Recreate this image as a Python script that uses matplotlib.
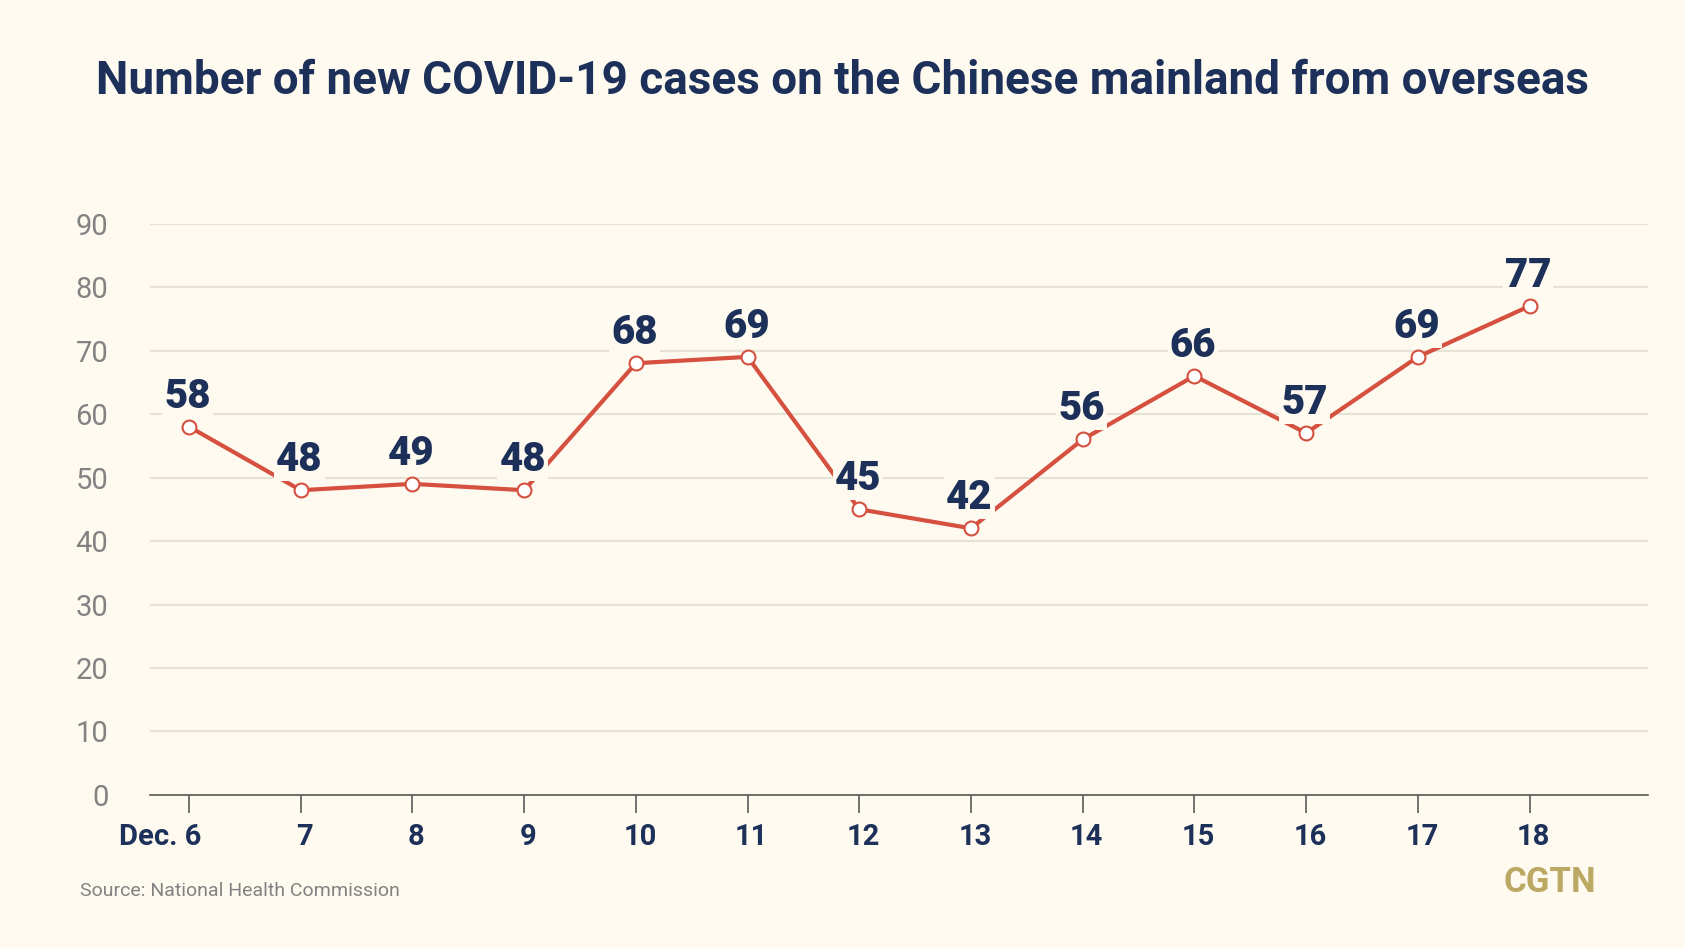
import matplotlib.pyplot as plt
import matplotlib.transforms as mtrans
import numpy as np

# data
days = ["Dec. 6", "7", "8", "9", "10", "11", "12", "13", "14", "15", "16", "17", "18"]
cases = [58, 48, 49, 48, 68, 69, 45, 42, 56, 66, 57, 69, 77]
y_ticks = [0, 10, 20, 30, 40, 50, 60, 70, 80, 90]

bg = "#fefaf0"
navy = "#1c3059"
red = "#d5503f"
grey = "#828282"

plt.rcParams['font.family'] = ['Roboto', 'DejaVu Sans']

fig = plt.figure(figsize=(16.85, 9.48), dpi=100, facecolor=bg)
ax = fig.add_axes([0.089, 0.1614, 0.889, 0.6028])
ax.set_facecolor(bg)

x = np.arange(len(days))
ax.plot(x, cases, color=red, lw=3, zorder=3)
ax.plot(x, cases, "o", ms=10, mfc="white", mec=red, mew=1.5, zorder=4)

for xi, v in zip(x, cases):
    ax.annotate(str(v), (xi, v), xytext=(-1, 8), textcoords="offset points",
                ha="center", va="bottom", fontsize=29, fontweight="heavy", color=navy,
                bbox=dict(boxstyle="square,pad=0.05", fc=bg, ec="none"), zorder=5)

ax.set_xlim(-0.35, 13.06)
ax.set_ylim(0, 90)
ax.set_yticks(y_ticks)
ax.set_xticks(x)
ax.set_xticklabels(days)
ax.yaxis.grid(True, color="#e6e2d6", lw=1.5)
ax.set_axisbelow(True)

for s in ["top", "right", "left"]:
    ax.spines[s].set_visible(False)
ax.spines["bottom"].set_color("#5a5a5a")
ax.spines["bottom"].set_linewidth(1.2)
ax.spines["bottom"].set_zorder(2)

ax.tick_params(axis="y", length=0, pad=30, labelsize=21, labelcolor=grey)
ax.tick_params(axis="x", length=13, width=1.2, color="#5a5a5a", pad=7, labelsize=21, labelcolor=navy)
for i, lab in enumerate(ax.get_xticklabels()):
    lab.set_fontweight("bold")
    if i == 0:
        lab.set_ha("right")
        lab.set_transform(lab.get_transform() + mtrans.ScaledTranslation(12/100, 0, fig.dpi_scale_trans))
    else:
        lab.set_transform(lab.get_transform() + mtrans.ScaledTranslation(4/100, 0, fig.dpi_scale_trans))

fig.text(0.5, 0.915, "Number of new COVID-19 cases on the Chinese mainland from overseas",
         ha="center", va="center", fontsize=33, fontweight="bold", color=navy)
fig.text(0.0475, 0.06, "Source: National Health Commission", ha="left", va="center",
         fontsize=14, color=grey)
fig.text(0.92, 0.069, "CGTN", ha="center", va="center", fontsize=25, fontweight="bold", color="#bba862")

fig.savefig("out.png", dpi=100, facecolor=bg)
